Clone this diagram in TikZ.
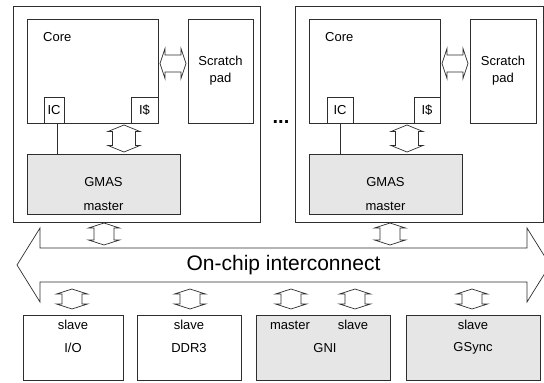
\documentclass[tikz,border=0pt]{standalone}
\usepackage{fontspec}
\setmainfont{Liberation Sans}
\usetikzlibrary{calc}
\definecolor{unitgray}{HTML}{E6E6E6}
\definecolor{edge}{HTML}{2E2E2E}

\tikzset{
  % outlined block arrow with a head at both ends:
  % #1 head length, #2 half head width, #3 half shaft width
  blk/.style n args={3}{draw=edge, line width=0.7pt, fill=white,
    to path={
      -- ($($(\tikztostart)!#1!(\tikztotarget)$)!#2!90:(\tikztotarget)$)
      -- ($($(\tikztostart)!#1!(\tikztotarget)$)!#3!90:(\tikztotarget)$)
      -- ($($(\tikztotarget)!#1!(\tikztostart)$)!-#3!90:(\tikztostart)$)
      -- ($($(\tikztotarget)!#1!(\tikztostart)$)!-#2!90:(\tikztostart)$)
      -- (\tikztotarget)
      -- ($($(\tikztotarget)!#1!(\tikztostart)$)!#2!90:(\tikztostart)$)
      -- ($($(\tikztotarget)!#1!(\tikztostart)$)!#3!90:(\tikztostart)$)
      -- ($($(\tikztostart)!#1!(\tikztotarget)$)!-#3!90:(\tikztotarget)$)
      -- ($($(\tikztostart)!#1!(\tikztotarget)$)!-#2!90:(\tikztotarget)$)
      -- cycle}},
  vblk/.style={blk={6.5pt}{16pt}{11.5pt}},
  hblk/.style={blk={5pt}{15pt}{8.5pt}},
  pblk/.style={blk={5pt}{15.5pt}{10pt}},
  box/.style={draw=edge, line width=0.8pt, anchor=north west, inner sep=0pt, outer sep=0pt},
  unit/.style={box, fill=unitgray},
  lbl/.style={font=\fontsize{13}{17}\selectfont, inner sep=0pt, text=black},
  wire/.style={draw=edge, line width=0.8pt},
}

\begin{document}
\begin{tikzpicture}[x=1pt, y=-1pt]
\useasboundingbox (0,0) rectangle (544,383);

% ---------- left tile ----------
\node[box, minimum width=247pt, minimum height=216pt] (outerL) at (13,6) {};
\node[box, minimum width=131pt, minimum height=104pt] (coreL) at (27,19) {};
\node[box, minimum width=65pt, minimum height=104pt] (spL) at (188,19) {};
\node[box, minimum width=20pt, minimum height=26pt] (icL) at (44,97) {};
\node[box, minimum width=27pt, minimum height=26pt] (isL) at (131,97) {};
\node[unit, minimum width=153pt, minimum height=60pt] (gmasL) at (27,154) {};

\node[lbl, anchor=west] (coreLt) at ($(coreL.north west)+(16,18)$) {Core};
\node[lbl, align=center] (spLt) at (spL.center) {Scratch\\pad};
\node[lbl] (icLt) at (icL.center) {IC};
\node[lbl] (isLt) at (isL.center) {I\$};
\node[lbl] (gmasLt) at ($(gmasL.north)+(0,28.5)$) {GMAS};
\node[lbl] (gmasLm) at ($(gmasL.north)+(0,52)$) {master};

% ---------- right tile ----------
\node[box, minimum width=248pt, minimum height=216pt] (outerR) at (295,6) {};
\node[box, minimum width=131pt, minimum height=104pt] (coreR) at (309,19) {};
\node[box, minimum width=66pt, minimum height=104pt] (spR) at (470,19) {};
\node[box, minimum width=26pt, minimum height=26pt] (icR) at (327,97) {};
\node[box, minimum width=26pt, minimum height=26pt] (isR) at (414,97) {};
\node[unit, minimum width=153pt, minimum height=60pt] (gmasR) at (309,154) {};

\node[lbl, anchor=west] (coreRt) at ($(coreR.north west)+(16,18)$) {Core};
\node[lbl, align=center] (spRt) at (spR.center) {Scratch\\pad};
\node[lbl] (icRt) at (icR.center) {IC};
\node[lbl] (isRt) at (isR.center) {I\$};
\node[lbl] (gmasRt) at ($(gmasR.north)+(0,28.5)$) {GMAS};
\node[lbl] (gmasRm) at ($(gmasR.north)+(0,52)$) {master};

\node[font=\bfseries\fontsize{20}{22}\selectfont, inner sep=0pt] (dots) at (281,122) {...};

% ---------- peripheral units ----------
\node[box, minimum width=100pt, minimum height=65pt] (io) at (23,315) {};
\node[box, minimum width=104pt, minimum height=65pt] (ddr) at (137,315) {};
\node[unit, minimum width=134pt, minimum height=65pt] (gni) at (256,315) {};
\node[unit, minimum width=134pt, minimum height=65pt] (gsync) at (406,315) {};

\node[lbl] (ios) at ($(io.north)+(0,10)$) {slave};
\node[lbl] (iot) at ($(io.north)+(0,33)$) {I/O};
\node[lbl] (ddrs) at ($(ddr.north)+(0,10)$) {slave};
\node[lbl] (ddrt) at ($(ddr.north)+(0,33)$) {DDR3};
\node[lbl] (gnim) at ($(gni.north west)+(34,10)$) {master};
\node[lbl] (gnis) at ($(gni.north west)+(97,10)$) {slave};
\node[lbl] (gnit) at ($(gni.north)+(2,33)$) {GNI};
\node[lbl] (gsyncs) at ($(gsync.north)+(0,10)$) {slave};
\node[lbl] (gsynct) at ($(gsync.north)+(0,33)$) {GSync};

% ---------- on-chip interconnect ----------
\coordinate (nocW) at (17,265);
\coordinate (nocE) at (550,265);
\draw[blk={23pt}{37pt}{17pt}] (nocW) to (nocE);
\coordinate (nocT) at (0,248);
\coordinate (nocB) at (0,282);
\node[font=\fontsize{21}{25}\selectfont, inner sep=0pt] (noct) at ($(nocW)!0.5!(nocE)$) {On-chip interconnect};

% ---------- links inside the tiles ----------
\coordinate (xvL) at (124,0);
\coordinate (xvR) at (407,0);
\coordinate (yh) at (0,63.5);
\coordinate (xwL) at (57,0);
\coordinate (xwR) at (340,0);

\draw[wire] (icL.south -| xwL) -- (gmasL.north -| xwL);
\draw[wire] (icR.south -| xwR) -- (gmasR.north -| xwR);

\draw[vblk] ($(coreL.south -| xvL)+(0,2)$) to ($(gmasL.north -| xvL)+(0,-2)$);
\draw[vblk] ($(coreR.south -| xvR)+(0,2)$) to ($(gmasR.north -| xvR)+(0,-2)$);
\draw[hblk] ($(coreL.east |- yh)+(2,0)$) to ($(spL.west |- yh)+(-2,0)$);
\draw[hblk] ($(coreR.east |- yh)+(2,0)$) to ($(spR.west |- yh)+(-2,0)$);

% ---------- links to the interconnect ----------
\coordinate (xtL) at (104,0);
\coordinate (xtR) at (390,0);
\draw[pblk] ($(outerL.south -| xtL)+(0,1)$) to ($(nocT -| xtL)+(0,-3)$);
\draw[pblk] ($(outerR.south -| xtR)+(0,1)$) to ($(nocT -| xtR)+(0,-3)$);

\coordinate (xb1) at (72,0);
\coordinate (xb2) at (190,0);
\coordinate (xb3) at (291,0);
\coordinate (xb4) at (355,0);
\coordinate (xb5) at (472,0);
\draw[pblk] ($(nocB -| xb1)+(0,7)$) to ($(io.north -| xb1)+(0,-6)$);
\draw[pblk] ($(nocB -| xb2)+(0,7)$) to ($(ddr.north -| xb2)+(0,-6)$);
\draw[pblk] ($(nocB -| xb3)+(0,7)$) to ($(gni.north -| xb3)+(0,-6)$);
\draw[pblk] ($(nocB -| xb4)+(0,7)$) to ($(gni.north -| xb4)+(0,-6)$);
\draw[pblk] ($(nocB -| xb5)+(0,7)$) to ($(gsync.north -| xb5)+(0,-6)$);
\end{tikzpicture}
\end{document}
